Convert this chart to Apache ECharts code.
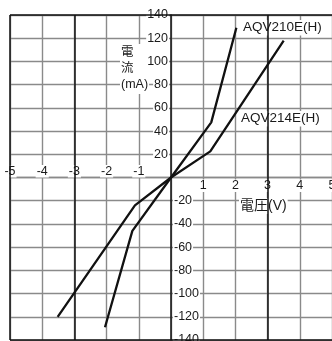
<!DOCTYPE html>
<html><head><meta charset="utf-8">
<script src="https://cdn.jsdelivr.net/npm/echarts@6/dist/echarts.min.js"></script>
<style>html,body{margin:0;padding:0;background:#fff}#c{width:332px;height:341px}</style>
</head><body><div id="c"></div>
<script>
// tick labels
const xTicksPos = [1, 2, 3, 4, 5];
const xTicksNeg = [-5, -4, -3, -2, -1];
const yTicksPos = [20, 40, 60, 80, 100, 120, 140];
const yTicksNeg = [-20, -40, -60, -80, -100, -120, -140];
// darker grid lines (frame and ±3 V)
const darkGridX = [-5, -3, 3];
const darkGridY = [-140, 140];
// series names
const seriesNames = ['AQV210E(H)', 'AQV214E(H)'];
// [voltage V, current mA]
const aqv210 = [[-2.05, -129], [-1.2, -46], [0, 0], [1.25, 47.5], [2.03, 129]];
const aqv214 = [[-3.52, -120], [-1.12, -24], [0, 0], [1.22, 22.5], [3.5, 118]];
const yName = '電\n流\n(mA)';
const xName = '電圧(V)';

const FONT = "'Liberation Sans', 'Noto Sans CJK JP', sans-serif";
const G = '#8a8a8a', K = '#111';

const base = {type: 'value', min: -5, max: 5, interval: 1};
const ybase = {type: 'value', min: -140, max: 140, interval: 20};
const lblCommon = {color: '#1a1a1a', fontFamily: FONT, fontSize: 12.5, backgroundColor: '#fff', padding: [0, 1]};
const hiddenLine = {show: false, onZero: false};
// label axes are moved onto the zero lines (grid: left 10, width 322; top 15, height 325)
const X_OFF = -162.5, Y_OFF = -161;

const chart = echarts.init(document.getElementById('c'), null, {renderer: 'canvas'});
chart.setOption({
  animation: false,
  grid: {left: 10, top: 15, right: 0, bottom: 1, containLabel: false, outerBoundsMode: 'none'},
  xAxis: [
    Object.assign({}, base, {position: 'bottom', z: 0,
      axisLine: {show: true, onZero: true, lineStyle: {color: G, width: 1.3}},
      axisTick: {show: false}, axisLabel: {show: false},
      splitLine: {show: true, lineStyle: {color: G, width: 1.4}}}),
    Object.assign({}, base, {position: 'bottom', z: 4, offset: X_OFF,
      axisLine: hiddenLine, axisTick: {show: false}, splitLine: {show: false},
      axisLabel: Object.assign({}, lblCommon, {customValues: xTicksPos, margin: 2})}),
    Object.assign({}, base, {position: 'bottom', z: 4, offset: X_OFF,
      axisLine: hiddenLine, axisTick: {show: false}, splitLine: {show: false},
      axisLabel: Object.assign({}, lblCommon, {customValues: xTicksNeg, margin: 0, inside: true})})
  ],
  yAxis: [
    Object.assign({}, ybase, {position: 'left', z: 1,
      axisLine: {show: true, onZero: true, lineStyle: {color: K, width: 1.5}},
      axisTick: {show: false}, axisLabel: {show: false},
      splitLine: {show: true, lineStyle: {color: G, width: 1.4}}}),
    Object.assign({}, ybase, {position: 'left', z: 4, offset: Y_OFF,
      axisLine: hiddenLine, axisTick: {show: false}, splitLine: {show: false},
      axisLabel: Object.assign({}, lblCommon, {customValues: yTicksPos, margin: 2})}),
    Object.assign({}, ybase, {position: 'left', z: 4, offset: Y_OFF,
      axisLine: hiddenLine, axisTick: {show: false}, splitLine: {show: false},
      axisLabel: Object.assign({}, lblCommon, {customValues: yTicksNeg, margin: 2, inside: true})})
  ],
  series: [
    {type: 'line', data: [], z: 1, silent: true, clip: false,
      markLine: {silent: true, symbol: 'none', label: {show: false},
        lineStyle: {color: K, width: 1.5, type: 'solid'},
        data: darkGridX.map(v => ({xAxis: v})).concat(darkGridY.map(v => ({yAxis: v})))}},
    {name: seriesNames[0], type: 'line', data: aqv210, symbol: 'none', z: 2,
      lineStyle: {color: K, width: 2.3}},
    {name: seriesNames[1], type: 'line', data: aqv214, symbol: 'none', z: 2,
      lineStyle: {color: K, width: 2.3}}
  ],
  graphic: [
    {type: 'text', left: 120, top: 44, z: 3,
      style: {text: yName, font: '12.5px ' + FONT, fill: '#1a1a1a', align: 'center',
        lineHeight: 16, backgroundColor: '#fff', padding: [1, 1]}},
    {type: 'text', left: 239, top: 198, z: 3,
      style: {text: xName, font: '14px ' + FONT, fill: '#1a1a1a', backgroundColor: '#fff', padding: [1, 1]}},
    {type: 'text', left: 242, top: 20, z: 3,
      style: {text: seriesNames[0], font: '13.5px ' + FONT, fill: '#1a1a1a', backgroundColor: '#fff', padding: [1, 1]}},
    {type: 'text', left: 240, top: 111, z: 3,
      style: {text: seriesNames[1], font: '13.5px ' + FONT, fill: '#1a1a1a', backgroundColor: '#fff', padding: [1, 1]}}
  ]
});
</script></body></html>
